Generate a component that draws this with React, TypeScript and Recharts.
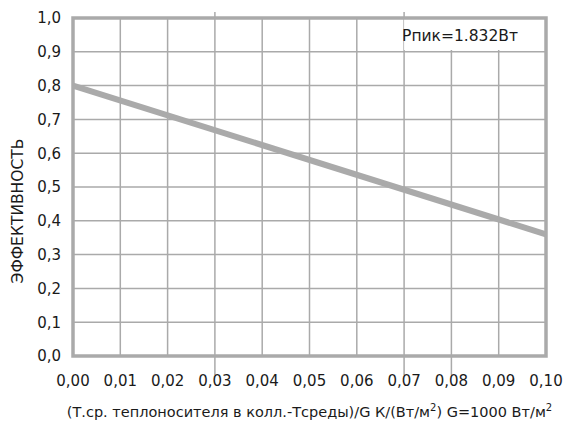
import React from 'react';
import {
  LineChart,
  Line,
  XAxis,
  YAxis,
  CartesianGrid,
  ReferenceArea,
  ReferenceLine,
} from 'recharts';

const xValues = [0, 0.1];
const efficiency = [0.8, 0.36];
const xTicks = [0, 0.01, 0.02, 0.03, 0.04, 0.05, 0.06, 0.07, 0.08, 0.09, 0.1];
const yTicks = [0, 0.1, 0.2, 0.3, 0.4, 0.5, 0.6, 0.7, 0.8, 0.9, 1.0];
const peakLabel = 'Pпик=1.832Вт';
const yTitle = 'ЭФФЕКТИВНОСТЬ';
// grid lines in the original that poke out past the frame
const strayUp = [0.03, 0.07];
const strayDown = [0.03, 0.07, 0.08];

const data = xValues.map((x, i) => ({ x, eff: efficiency[i] }));

const GRAY = '#aaaaaa';
const TEXT = '#1a1a1a';
const FONT = '"DejaVu Sans", sans-serif';

const comma = (v: number, digits: number) => v.toFixed(digits).replace('.', ',');

const XTitle = (props: any) => {
  const { viewBox } = props;
  const cx = viewBox.x + viewBox.width / 2;
  return (
    <text
      x={cx}
      y={viewBox.y + 61}
      textAnchor="middle"
      fill={TEXT}
      fontFamily={FONT}
      fontSize={14.5}
    >
      (Т.ср. теплоносителя в колл.-Тсреды)/G К/(Вт/м
      <tspan dy={-6} fontSize={10}>2</tspan>
      <tspan dy={6}>) G=1000 Вт/м</tspan>
      <tspan dy={-6} fontSize={10}>2</tspan>
    </text>
  );
};

const YTitle = (props: any) => {
  const { viewBox } = props;
  const cx = 18;
  const cy = viewBox.y + viewBox.height / 2 + 24;
  return (
    <text
      x={cx}
      y={cy}
      transform={`rotate(-90, ${cx}, ${cy})`}
      textAnchor="middle"
      dominantBaseline="central"
      fill={TEXT}
      fontFamily={FONT}
      fontSize={15.5}
    >
      {yTitle}
    </text>
  );
};

const PeakBox = (props: any) => {
  const { viewBox } = props;
  return (
    <text
      x={viewBox.x + viewBox.width - 28}
      y={viewBox.y + 23}
      textAnchor="end"
      fill={TEXT}
      fontFamily={FONT}
      fontSize={15.5}
    >
      {peakLabel}
    </text>
  );
};

export default function App() {
  return (
    <div style={{ position: 'fixed', left: 0, top: 0, background: '#fff' }}>
      <LineChart
        width={582}
        height={424}
        data={data}
        margin={{ top: 18, right: 36, bottom: 0, left: 0 }}
      >
        <CartesianGrid stroke={GRAY} strokeWidth={1.5} vertical horizontal />
        {strayUp.map((x) => (
          <ReferenceLine
            key={`u${x}`}
            segment={[{ x, y: 1 }, { x, y: 1.018 }]}
            stroke={GRAY}
            strokeWidth={1.5}
            ifOverflow="visible"
          />
        ))}
        {strayDown.map((x) => (
          <ReferenceLine
            key={`d${x}`}
            segment={[{ x, y: -0.056 }, { x, y: 0 }]}
            stroke={GRAY}
            strokeWidth={1.5}
            ifOverflow="visible"
          />
        ))}
        <XAxis
          dataKey="x"
          type="number"
          domain={[0, 0.1]}
          ticks={xTicks}
          tickFormatter={(v) => comma(v, 2)}
          height={68}
          axisLine={false}
          tickLine={false}
          tick={{ fill: TEXT, fontFamily: FONT, fontSize: 15, dy: 11 }}
          interval={0}
          label={<XTitle />}
        />
        <YAxis
          type="number"
          domain={[0, 1]}
          ticks={yTicks}
          tickFormatter={(v) => comma(v, 1)}
          width={73}
          axisLine={false}
          tickLine={false}
          tick={{ fill: TEXT, fontFamily: FONT, fontSize: 15, dx: -4 }}
          interval={0}
          label={<YTitle />}
        />
        <ReferenceArea
          x1={0.07}
          x2={0.1}
          y1={0.905}
          y2={1}
          fill="#ffffff"
          fillOpacity={1}
          stroke="none"
          label={<PeakBox />}
        />
        <ReferenceArea
          x1={0}
          x2={0.1}
          y1={0}
          y2={1}
          fill="none"
          stroke={GRAY}
          strokeWidth={3.5}
          ifOverflow="visible"
        />
        <Line
          dataKey="eff"
          type="linear"
          stroke={GRAY}
          strokeWidth={6}
          dot={false}
          isAnimationActive={false}
        />
      </LineChart>
    </div>
  );
}
